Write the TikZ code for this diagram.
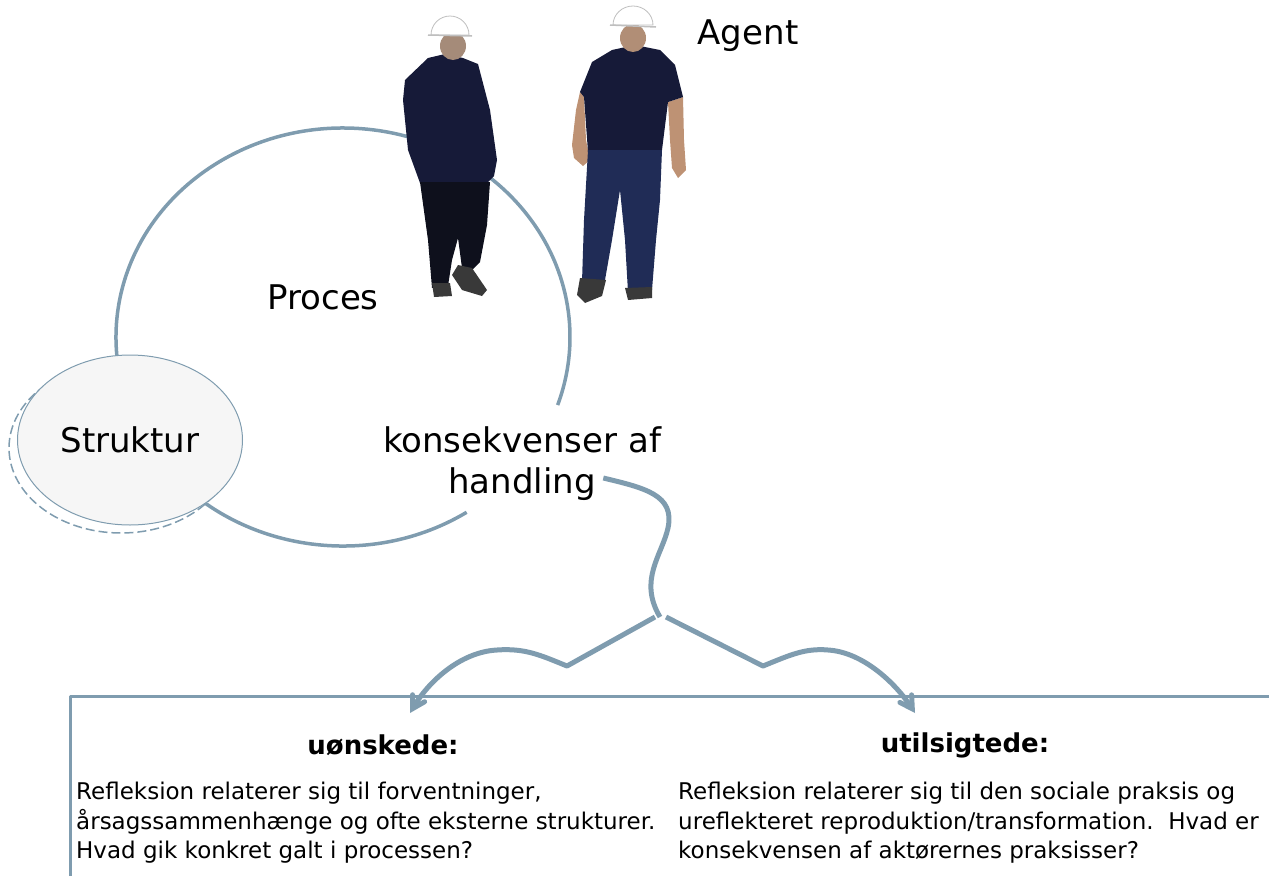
\documentclass[tikz,border=0pt]{standalone}
\usepackage{fontspec}
\setmainfont{DejaVu Sans}
\usepackage{tikz}
\usetikzlibrary{arrows,shapes}
\definecolor{procesblue}{RGB}{127,156,175}
\definecolor{jacket}{RGB}{22,26,56}
\definecolor{trousers}{RGB}{14,16,28}
\definecolor{jeans}{RGB}{32,44,86}
\definecolor{skin}{RGB}{190,146,116}

\begin{document}
\begin{tikzpicture}[x=1pt,y=-1pt,>=angle 60,line join=round]
  \tikzstyle{line}=[draw=procesblue,line width=3.5pt]
  \tikzstyle{flow}=[draw=procesblue,line width=5pt]
  \tikzstyle{big}=[font=\fontsize{34}{44}\selectfont]
  \tikzstyle{head}=[font=\fontsize{26}{30}\selectfont\bfseries]
  \tikzstyle{body}=[font=\fontsize{23}{29.5}\selectfont,align=left,inner sep=0pt,anchor=north west]
  \tikzstyle{hat}=[fill=white,draw=gray!50,line width=0.8pt]
  \tikzstyle{shoe}=[fill=gray!45!black]

  \useasboundingbox (0,0) rectangle (1269,876);

  % proces
  \draw[line] (343,337) ++(57:227 and 209)
    arc[start angle=57,end angle=379,x radius=227,y radius=209];

  % struktur
  \draw[procesblue,dash pattern=on 9pt off 4pt,line width=1.5pt] (121,448) ellipse [x radius=112,y radius=85];
  \node[ellipse,draw=procesblue,fill=gray!7,line width=1pt,minimum width=225pt,
        minimum height=170pt,big] (struktur) at (130,440) {Struktur};

  % agents
  \fill[jacket] (405,80) -- (428,58) -- (445,54) -- (463,58) -- (478,64) -- (490,110)
    -- (497,160) -- (494,176) -- (488,182) -- (462,183) -- (420,183) -- (408,150)
    -- (403,100) -- cycle;
  \fill[trousers] (420,182) -- (490,182) -- (487,225) -- (480,262) -- (470,272)
    -- (462,268) -- (458,238) -- (452,260) -- (448,286) -- (432,288) -- (428,240) -- cycle;
  \fill[shoe] (432,283) -- (450,283) -- (452,296) -- (434,297) -- cycle;
  \fill[shoe] (458,265) -- (472,268) -- (487,290) -- (482,296) -- (462,290) -- (452,275) -- cycle;
  \fill[skin!60!gray] (453,46) ellipse [x radius=13,y radius=14];
  \draw[hat] (431,35) arc[start angle=180,end angle=360,x radius=19,y radius=19] -- cycle;
  \draw[hat,line width=1.5pt] (428,35) -- (472,36);

  \fill[skin] (580,92) -- (584,97) -- (586,140) -- (590,160) -- (583,166) -- (574,158)
    -- (572,145) -- (576,110) -- cycle;
  \fill[skin] (668,102) -- (683,97) -- (684,140) -- (686,170) -- (678,178) -- (672,168)
    -- (670,140) -- cycle;
  \fill[jacket] (580,92) -- (592,62) -- (612,50) -- (635,45) -- (660,50) -- (675,65)
    -- (683,97) -- (668,102) -- (662,150) -- (588,152) -- (584,97) -- cycle;
  \fill[jeans] (588,150) -- (662,150) -- (660,200) -- (656,240) -- (652,290) -- (628,292)
    -- (625,240) -- (620,190) -- (612,240) -- (605,280) -- (582,282) -- (584,220) -- cycle;
  \fill[shoe] (580,278) -- (606,280) -- (602,296) -- (585,303) -- (577,295) -- cycle;
  \fill[shoe] (625,288) -- (652,287) -- (652,298) -- (628,300) -- cycle;
  \fill[skin!80!gray] (633,38) ellipse [x radius=13,y radius=14];
  \draw[hat] (613,25) arc[start angle=180,end angle=360,x radius=20,y radius=19] -- cycle;
  \draw[hat,line width=1.5pt] (610,25) -- (656,27);

  % labels
  \node[big] (proces) at (323,297) {Proces};
  \node[big] (agent)  at (748,36)  {Agent};
  \node[big] (konsek) at (522,440) {konsekvenser af};
  \node[big] (handling) [below of=konsek,node distance=44pt] {handling};

  % consequences
  \coordinate (fork) at (660,613);
  \coordinate (tipL) at (410,713);
  \coordinate (tipR) at (915,713);
  \draw[flow] ([xshift=4pt,yshift=6pt]handling.east) .. controls (645,488) and (675,495) .. (668,528)
    .. controls (662,555) and (638,580) .. ([yshift=-4pt]fork);
  \draw[flow,->] ([shift={(-5,4)}]fork) -- (567,666) .. controls (540,655) and (525,648) .. (497,650)
    .. controls (460,652) and (428,682) .. (tipL);
  \draw[flow,->] ([shift={(6,4)}]fork) -- (763,666) .. controls (790,655) and (805,648) .. (828,650)
    .. controls (862,652) and (895,682) .. (tipR);

  \draw[line,line width=3pt] (70,876) -- (70,696) -- (1269,696);

  \node[head] (onskede)  at (383,745) {uønskede:};
  \node[head] (utilsigt) at (965,745) {utilsigtede:};
  \node[body] (tekstL) at (76,782) {Refleksion relaterer sig til forventninger,\\
    årsagssammenhænge og ofte eksterne strukturer.\\Hvad gik konkret galt i processen?};
  \node[body] (tekstR) at (678,782) {Refleksion relaterer sig til den sociale praksis og\\
    ureflekteret reproduktion/transformation.\ \ Hvad er\\konsekvensen af aktørernes praksisser?};
\end{tikzpicture}
\end{document}
